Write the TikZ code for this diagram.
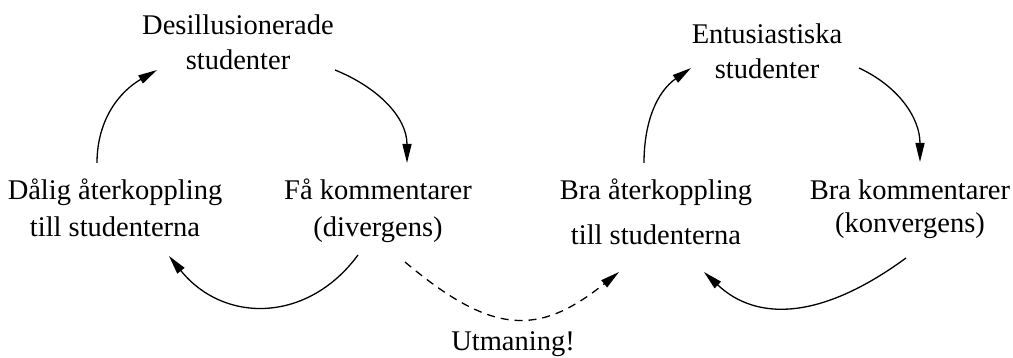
\documentclass[tikz,border=0pt]{standalone}
\usepackage{fontspec}
\setmainfont{Liberation Serif}
\usetikzlibrary{arrows.meta}
\begin{document}
\begin{tikzpicture}[x=1pt,y=1pt,
  lbl/.style={align=center,inner sep=0pt,font=\fontsize{28.5}{35}\selectfont},
  arr/.style={line width=1.3pt,-{Triangle[length=19pt,width=9pt]}},
  dsh/.style={arr,dash pattern=on 8pt off 6pt}]
\useasboundingbox (0,0) rectangle (1013,358);
\node[lbl] (des) at (238,312.5) {\strut Desillusionerade\\\strut studenter};
\node[lbl] (dal) at (115,146.5) {\strut Dålig återkoppling\\[2pt]\strut till studenterna};
\node[lbl] (fa) at (378,146.5) {\strut Få kommentarer\\[2pt]\strut (divergens)};
\node[lbl] (ent) at (767,303.5) {\strut Entusiastiska\\\strut studenter};
\node[lbl] (braa) at (656,142.5) {\strut Bra återkoppling\\[10pt]\strut till studenterna};
\node[lbl] (brak) at (910,148.5) {\strut Bra kommentarer\\[-2pt]\strut (konvergens)};
\node[lbl,anchor=base] (utm) at (513,7.5) {Utmaning!};
% left cycle
\draw[arr] ([shift={(-18,48.5)}]dal.center) to[out=90,in=-150] ([shift={(-81,-24.5)}]des.center);
\draw[arr] ([shift={(97,-24.5)}]des.center) to[out=-22,in=90] ([shift={(29,48.5)}]fa.center);
\draw[arr] ([shift={(-20,-43.5)}]fa.center) .. controls +(-50,-68) and +(55,-68) .. ([shift={(54,-44.5)}]dal.center);
% challenge
\draw[dsh] ([shift={(27,-50.5)}]fa.center) .. controls +(88,-74) and +(-80,-64) .. ([shift={(-37,-56.5)}]braa.center);
% right cycle
\draw[arr] ([shift={(-12,52.5)}]braa.center) to[out=90,in=-145] ([shift={(-76,-13.5)}]ent.center);
\draw[arr] ([shift={(92,-13.5)}]ent.center) to[out=-25,in=90] ([shift={(10,47.5)}]brak.center);
\draw[arr] ([shift={(-4,-48.5)}]brak.center) .. controls +(-86,-63) and +(52,-49) .. ([shift={(48,-56.5)}]braa.center);
\end{tikzpicture}
\end{document}
